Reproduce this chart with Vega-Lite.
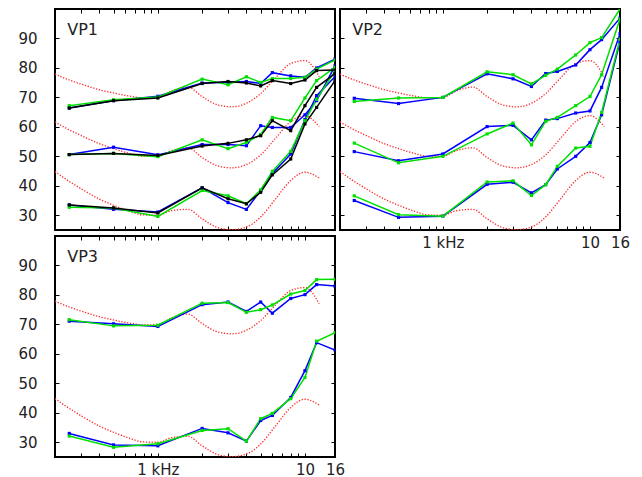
{
"$schema": "https://vega.github.io/schema/vega-lite/v6.json",
"padding": {"left": 16, "top": 7, "right": 0, "bottom": 0},
"background": "white",
"datasets": {
"iso": [
{"lv":70,"f":200,"db":77.9},{"lv":70,"f":250,"db":75.9},{"lv":70,"f":315,"db":74.2},{"lv":70,"f":400,"db":72.6},{"lv":70,"f":500,"db":71.5},{"lv":70,"f":630,"db":70.5},{"lv":70,"f":800,"db":69.8},{"lv":70,"f":1000,"db":70.0},{"lv":70,"f":1250,"db":72.3},{"lv":70,"f":1600,"db":73.5},{"lv":70,"f":2000,"db":70.3},{"lv":70,"f":2500,"db":67.6},{"lv":70,"f":3150,"db":66.8},{"lv":70,"f":4000,"db":68.0},{"lv":70,"f":5000,"db":71.3},{"lv":70,"f":6300,"db":76.6},{"lv":70,"f":8000,"db":81.5},{"lv":70,"f":10000,"db":82.5},{"lv":70,"f":12500,"db":77.0},
{"lv":50,"f":200,"db":61.7},{"lv":50,"f":250,"db":59.0},{"lv":50,"f":315,"db":56.6},{"lv":50,"f":400,"db":54.3},{"lv":50,"f":500,"db":52.6},{"lv":50,"f":630,"db":51.1},{"lv":50,"f":800,"db":50.0},{"lv":50,"f":1000,"db":50.0},{"lv":50,"f":1250,"db":52.0},{"lv":50,"f":1600,"db":52.9},{"lv":50,"f":2000,"db":49.6},{"lv":50,"f":2500,"db":46.9},{"lv":50,"f":3150,"db":46.1},{"lv":50,"f":4000,"db":47.2},{"lv":50,"f":5000,"db":50.5},{"lv":50,"f":6300,"db":56.1},{"lv":50,"f":8000,"db":61.8},{"lv":50,"f":10000,"db":63.8},{"lv":50,"f":12500,"db":60.1},
{"lv":30,"f":200,"db":44.8},{"lv":30,"f":250,"db":41.5},{"lv":30,"f":315,"db":38.4},{"lv":30,"f":400,"db":35.5},{"lv":30,"f":500,"db":33.4},{"lv":30,"f":630,"db":31.5},{"lv":30,"f":800,"db":30.1},{"lv":30,"f":1000,"db":30.0},{"lv":30,"f":1250,"db":31.6},{"lv":30,"f":1600,"db":32.0},{"lv":30,"f":2000,"db":28.8},{"lv":30,"f":2500,"db":26.0},{"lv":30,"f":3150,"db":25.1},{"lv":30,"f":4000,"db":26.0},{"lv":30,"f":5000,"db":29.4},{"lv":30,"f":6300,"db":35.5},{"lv":30,"f":8000,"db":41.8},{"lv":30,"f":10000,"db":44.6},{"lv":30,"f":12500,"db":42.6}
],
"lab": [{"p":"VP1"},{"p":"VP2"},{"p":"VP3"}],
"meas": [
{"p":"VP1","g":"U","r":"A","f":250,"db":66.4},{"p":"VP1","g":"U","r":"A","f":500,"db":68.9},{"p":"VP1","g":"U","r":"A","f":1000,"db":70.4},{"p":"VP1","g":"U","r":"A","f":2000,"db":74.9},{"p":"VP1","g":"U","r":"A","f":3000,"db":75.1},{"p":"VP1","g":"U","r":"A","f":4000,"db":75.4},{"p":"VP1","g":"U","r":"A","f":5000,"db":74.7},{"p":"VP1","g":"U","r":"A","f":6000,"db":78.4},{"p":"VP1","g":"U","r":"A","f":8000,"db":77.3},{"p":"VP1","g":"U","r":"A","f":10000,"db":76.8},{"p":"VP1","g":"U","r":"A","f":12000,"db":80.0},{"p":"VP1","g":"U","r":"A","f":16000,"db":83.0},
{"p":"VP1","g":"M","r":"A","f":250,"db":50.6},{"p":"VP1","g":"M","r":"A","f":500,"db":53.1},{"p":"VP1","g":"M","r":"A","f":1000,"db":50.5},{"p":"VP1","g":"M","r":"A","f":2000,"db":54.0},{"p":"VP1","g":"M","r":"A","f":3000,"db":54.0},{"p":"VP1","g":"M","r":"A","f":4000,"db":53.6},{"p":"VP1","g":"M","r":"A","f":5000,"db":60.4},{"p":"VP1","g":"M","r":"A","f":6000,"db":59.8},{"p":"VP1","g":"M","r":"A","f":8000,"db":59.8},{"p":"VP1","g":"M","r":"A","f":10000,"db":64.1},{"p":"VP1","g":"M","r":"A","f":12000,"db":68.9},{"p":"VP1","g":"M","r":"A","f":16000,"db":80.7},
{"p":"VP1","g":"L","r":"A","f":250,"db":33.5},{"p":"VP1","g":"L","r":"A","f":500,"db":32.0},{"p":"VP1","g":"L","r":"A","f":1000,"db":31.1},{"p":"VP1","g":"L","r":"A","f":2000,"db":39.3},{"p":"VP1","g":"L","r":"A","f":3000,"db":34.3},{"p":"VP1","g":"L","r":"A","f":4000,"db":32.0},{"p":"VP1","g":"L","r":"A","f":5000,"db":38.4},{"p":"VP1","g":"L","r":"A","f":6000,"db":44.2},{"p":"VP1","g":"L","r":"A","f":8000,"db":50.8},{"p":"VP1","g":"L","r":"A","f":10000,"db":62.5},{"p":"VP1","g":"L","r":"A","f":12000,"db":70.6},{"p":"VP1","g":"L","r":"A","f":16000,"db":77.0},
{"p":"VP1","g":"U","r":"B","f":250,"db":67.2},{"p":"VP1","g":"U","r":"B","f":500,"db":69.2},{"p":"VP1","g":"U","r":"B","f":1000,"db":70.1},{"p":"VP1","g":"U","r":"B","f":2000,"db":76.2},{"p":"VP1","g":"U","r":"B","f":3000,"db":74.3},{"p":"VP1","g":"U","r":"B","f":4000,"db":77.0},{"p":"VP1","g":"U","r":"B","f":5000,"db":75.1},{"p":"VP1","g":"U","r":"B","f":6000,"db":76.4},{"p":"VP1","g":"U","r":"B","f":8000,"db":76.4},{"p":"VP1","g":"U","r":"B","f":10000,"db":76.8},{"p":"VP1","g":"U","r":"B","f":12000,"db":79.6},{"p":"VP1","g":"U","r":"B","f":16000,"db":82.7},
{"p":"VP1","g":"M","r":"B","f":250,"db":50.6},{"p":"VP1","g":"M","r":"B","f":500,"db":51.0},{"p":"VP1","g":"M","r":"B","f":1000,"db":49.9},{"p":"VP1","g":"M","r":"B","f":2000,"db":55.6},{"p":"VP1","g":"M","r":"B","f":3000,"db":52.6},{"p":"VP1","g":"M","r":"B","f":4000,"db":54.7},{"p":"VP1","g":"M","r":"B","f":5000,"db":57.4},{"p":"VP1","g":"M","r":"B","f":6000,"db":63.2},{"p":"VP1","g":"M","r":"B","f":8000,"db":62.1},{"p":"VP1","g":"M","r":"B","f":10000,"db":69.8},{"p":"VP1","g":"M","r":"B","f":12000,"db":75.7},{"p":"VP1","g":"M","r":"B","f":16000,"db":80.2},
{"p":"VP1","g":"L","r":"B","f":250,"db":32.7},{"p":"VP1","g":"L","r":"B","f":500,"db":32.5},{"p":"VP1","g":"L","r":"B","f":1000,"db":29.6},{"p":"VP1","g":"L","r":"B","f":2000,"db":38.4},{"p":"VP1","g":"L","r":"B","f":3000,"db":36.6},{"p":"VP1","g":"L","r":"B","f":4000,"db":33.9},{"p":"VP1","g":"L","r":"B","f":5000,"db":38.6},{"p":"VP1","g":"L","r":"B","f":6000,"db":44.9},{"p":"VP1","g":"L","r":"B","f":8000,"db":51.7},{"p":"VP1","g":"L","r":"B","f":10000,"db":62.1},{"p":"VP1","g":"L","r":"B","f":12000,"db":69.3},{"p":"VP1","g":"L","r":"B","f":16000,"db":79.0},
{"p":"VP1","g":"U","r":"C","f":250,"db":66.4},{"p":"VP1","g":"U","r":"C","f":500,"db":68.9},{"p":"VP1","g":"U","r":"C","f":1000,"db":69.8},{"p":"VP1","g":"U","r":"C","f":2000,"db":74.7},{"p":"VP1","g":"U","r":"C","f":3000,"db":75.4},{"p":"VP1","g":"U","r":"C","f":4000,"db":74.9},{"p":"VP1","g":"U","r":"C","f":5000,"db":73.9},{"p":"VP1","g":"U","r":"C","f":6000,"db":75.7},{"p":"VP1","g":"U","r":"C","f":8000,"db":74.7},{"p":"VP1","g":"U","r":"C","f":10000,"db":75.9},{"p":"VP1","g":"U","r":"C","f":12000,"db":79.1},{"p":"VP1","g":"U","r":"C","f":16000,"db":79.3},
{"p":"VP1","g":"M","r":"C","f":250,"db":50.6},{"p":"VP1","g":"M","r":"C","f":500,"db":51.0},{"p":"VP1","g":"M","r":"C","f":1000,"db":50.3},{"p":"VP1","g":"M","r":"C","f":2000,"db":53.5},{"p":"VP1","g":"M","r":"C","f":3000,"db":54.4},{"p":"VP1","g":"M","r":"C","f":4000,"db":55.6},{"p":"VP1","g":"M","r":"C","f":5000,"db":57.0},{"p":"VP1","g":"M","r":"C","f":6000,"db":62.1},{"p":"VP1","g":"M","r":"C","f":8000,"db":58.7},{"p":"VP1","g":"M","r":"C","f":10000,"db":67.2},{"p":"VP1","g":"M","r":"C","f":12000,"db":73.4},{"p":"VP1","g":"M","r":"C","f":16000,"db":78.1},
{"p":"VP1","g":"L","r":"C","f":250,"db":33.5},{"p":"VP1","g":"L","r":"C","f":500,"db":32.5},{"p":"VP1","g":"L","r":"C","f":1000,"db":30.8},{"p":"VP1","g":"L","r":"C","f":2000,"db":39.3},{"p":"VP1","g":"L","r":"C","f":3000,"db":35.6},{"p":"VP1","g":"L","r":"C","f":4000,"db":33.9},{"p":"VP1","g":"L","r":"C","f":5000,"db":37.8},{"p":"VP1","g":"L","r":"C","f":6000,"db":43.7},{"p":"VP1","g":"L","r":"C","f":8000,"db":49.1},{"p":"VP1","g":"L","r":"C","f":10000,"db":61.0},{"p":"VP1","g":"L","r":"C","f":12000,"db":66.6},{"p":"VP1","g":"L","r":"C","f":16000,"db":75.7},
{"p":"VP2","g":"U","r":"A","f":250,"db":69.7},{"p":"VP2","g":"U","r":"A","f":500,"db":67.9},{"p":"VP2","g":"U","r":"A","f":1000,"db":70.0},{"p":"VP2","g":"U","r":"A","f":2000,"db":78.0},{"p":"VP2","g":"U","r":"A","f":3000,"db":76.3},{"p":"VP2","g":"U","r":"A","f":4000,"db":73.7},{"p":"VP2","g":"U","r":"A","f":5000,"db":78.1},{"p":"VP2","g":"U","r":"A","f":6000,"db":78.8},{"p":"VP2","g":"U","r":"A","f":8000,"db":81.0},{"p":"VP2","g":"U","r":"A","f":10000,"db":86.2},{"p":"VP2","g":"U","r":"A","f":12000,"db":89.6},{"p":"VP2","g":"U","r":"A","f":16000,"db":96.9},
{"p":"VP2","g":"M","r":"A","f":250,"db":51.6},{"p":"VP2","g":"M","r":"A","f":500,"db":48.5},{"p":"VP2","g":"M","r":"A","f":1000,"db":50.8},{"p":"VP2","g":"M","r":"A","f":2000,"db":60.1},{"p":"VP2","g":"M","r":"A","f":3000,"db":60.5},{"p":"VP2","g":"M","r":"A","f":4000,"db":55.6},{"p":"VP2","g":"M","r":"A","f":5000,"db":62.3},{"p":"VP2","g":"M","r":"A","f":6000,"db":62.8},{"p":"VP2","g":"M","r":"A","f":8000,"db":64.7},{"p":"VP2","g":"M","r":"A","f":10000,"db":65.4},{"p":"VP2","g":"M","r":"A","f":12000,"db":73.4},{"p":"VP2","g":"M","r":"A","f":16000,"db":91.6},
{"p":"VP2","g":"L","r":"A","f":250,"db":35.0},{"p":"VP2","g":"L","r":"A","f":500,"db":29.3},{"p":"VP2","g":"L","r":"A","f":1000,"db":29.7},{"p":"VP2","g":"L","r":"A","f":2000,"db":40.5},{"p":"VP2","g":"L","r":"A","f":3000,"db":41.2},{"p":"VP2","g":"L","r":"A","f":4000,"db":37.6},{"p":"VP2","g":"L","r":"A","f":5000,"db":40.4},{"p":"VP2","g":"L","r":"A","f":6000,"db":45.7},{"p":"VP2","g":"L","r":"A","f":8000,"db":50.0},{"p":"VP2","g":"L","r":"A","f":10000,"db":54.7},{"p":"VP2","g":"L","r":"A","f":12000,"db":64.1},{"p":"VP2","g":"L","r":"A","f":16000,"db":88.9},
{"p":"VP2","g":"U","r":"B","f":250,"db":68.6},{"p":"VP2","g":"U","r":"B","f":500,"db":69.8},{"p":"VP2","g":"U","r":"B","f":1000,"db":70.0},{"p":"VP2","g":"U","r":"B","f":2000,"db":78.7},{"p":"VP2","g":"U","r":"B","f":3000,"db":77.7},{"p":"VP2","g":"U","r":"B","f":4000,"db":74.6},{"p":"VP2","g":"U","r":"B","f":5000,"db":77.5},{"p":"VP2","g":"U","r":"B","f":6000,"db":79.6},{"p":"VP2","g":"U","r":"B","f":8000,"db":84.4},{"p":"VP2","g":"U","r":"B","f":10000,"db":88.6},{"p":"VP2","g":"U","r":"B","f":12000,"db":90.3},{"p":"VP2","g":"U","r":"B","f":16000,"db":100.0},
{"p":"VP2","g":"M","r":"B","f":250,"db":54.5},{"p":"VP2","g":"M","r":"B","f":500,"db":47.8},{"p":"VP2","g":"M","r":"B","f":1000,"db":50.0},{"p":"VP2","g":"M","r":"B","f":2000,"db":57.6},{"p":"VP2","g":"M","r":"B","f":3000,"db":61.3},{"p":"VP2","g":"M","r":"B","f":4000,"db":53.9},{"p":"VP2","g":"M","r":"B","f":5000,"db":61.9},{"p":"VP2","g":"M","r":"B","f":6000,"db":63.2},{"p":"VP2","g":"M","r":"B","f":8000,"db":67.2},{"p":"VP2","g":"M","r":"B","f":10000,"db":70.3},{"p":"VP2","g":"M","r":"B","f":12000,"db":77.7},{"p":"VP2","g":"M","r":"B","f":16000,"db":96.6},
{"p":"VP2","g":"L","r":"B","f":250,"db":36.6},{"p":"VP2","g":"L","r":"B","f":500,"db":30.2},{"p":"VP2","g":"L","r":"B","f":1000,"db":29.7},{"p":"VP2","g":"L","r":"B","f":2000,"db":41.3},{"p":"VP2","g":"L","r":"B","f":3000,"db":41.7},{"p":"VP2","g":"L","r":"B","f":4000,"db":36.7},{"p":"VP2","g":"L","r":"B","f":5000,"db":40.4},{"p":"VP2","g":"L","r":"B","f":6000,"db":46.6},{"p":"VP2","g":"L","r":"B","f":8000,"db":52.8},{"p":"VP2","g":"L","r":"B","f":10000,"db":53.4},{"p":"VP2","g":"L","r":"B","f":12000,"db":64.9},{"p":"VP2","g":"L","r":"B","f":16000,"db":89.8},
{"p":"VP3","g":"U","r":"A","f":250,"db":71.1},{"p":"VP3","g":"U","r":"A","f":500,"db":70.2},{"p":"VP3","g":"U","r":"A","f":1000,"db":69.3},{"p":"VP3","g":"U","r":"A","f":2000,"db":76.7},{"p":"VP3","g":"U","r":"A","f":3000,"db":77.6},{"p":"VP3","g":"U","r":"A","f":4000,"db":74.4},{"p":"VP3","g":"U","r":"A","f":5000,"db":77.6},{"p":"VP3","g":"U","r":"A","f":6000,"db":73.8},{"p":"VP3","g":"U","r":"A","f":8000,"db":78.8},{"p":"VP3","g":"U","r":"A","f":10000,"db":80.1},{"p":"VP3","g":"U","r":"A","f":12000,"db":83.5},{"p":"VP3","g":"U","r":"A","f":16000,"db":83.0},
{"p":"VP3","g":"L","r":"A","f":250,"db":33.0},{"p":"VP3","g":"L","r":"A","f":500,"db":29.1},{"p":"VP3","g":"L","r":"A","f":1000,"db":28.8},{"p":"VP3","g":"L","r":"A","f":2000,"db":34.7},{"p":"VP3","g":"L","r":"A","f":3000,"db":33.2},{"p":"VP3","g":"L","r":"A","f":4000,"db":30.4},{"p":"VP3","g":"L","r":"A","f":5000,"db":37.4},{"p":"VP3","g":"L","r":"A","f":6000,"db":39.1},{"p":"VP3","g":"L","r":"A","f":8000,"db":45.2},{"p":"VP3","g":"L","r":"A","f":10000,"db":54.3},{"p":"VP3","g":"L","r":"A","f":12000,"db":63.8},{"p":"VP3","g":"L","r":"A","f":16000,"db":61.3},
{"p":"VP3","g":"U","r":"B","f":250,"db":71.6},{"p":"VP3","g":"U","r":"B","f":500,"db":69.5},{"p":"VP3","g":"U","r":"B","f":1000,"db":69.7},{"p":"VP3","g":"U","r":"B","f":2000,"db":77.2},{"p":"VP3","g":"U","r":"B","f":3000,"db":77.4},{"p":"VP3","g":"U","r":"B","f":4000,"db":74.1},{"p":"VP3","g":"U","r":"B","f":5000,"db":75.0},{"p":"VP3","g":"U","r":"B","f":6000,"db":76.6},{"p":"VP3","g":"U","r":"B","f":8000,"db":80.3},{"p":"VP3","g":"U","r":"B","f":10000,"db":81.5},{"p":"VP3","g":"U","r":"B","f":12000,"db":85.2},{"p":"VP3","g":"U","r":"B","f":16000,"db":85.3},
{"p":"VP3","g":"L","r":"B","f":250,"db":32.1},{"p":"VP3","g":"L","r":"B","f":500,"db":28.3},{"p":"VP3","g":"L","r":"B","f":1000,"db":29.5},{"p":"VP3","g":"L","r":"B","f":2000,"db":34.0},{"p":"VP3","g":"L","r":"B","f":3000,"db":34.6},{"p":"VP3","g":"L","r":"B","f":4000,"db":30.4},{"p":"VP3","g":"L","r":"B","f":5000,"db":38.0},{"p":"VP3","g":"L","r":"B","f":6000,"db":39.8},{"p":"VP3","g":"L","r":"B","f":8000,"db":44.8},{"p":"VP3","g":"L","r":"B","f":10000,"db":52.0},{"p":"VP3","g":"L","r":"B","f":12000,"db":64.3},{"p":"VP3","g":"L","r":"B","f":16000,"db":67.2}
]
},
"columns": 2,
"bounds": "flush",
"spacing": {"row": 6, "column": 5},
"concat": [
{
"width": 280, "height": 221,
"resolve": {"axis": {"x": "independent", "y": "independent"}},
"layer": [
{"data": {"name": "iso"},
 "mark": {"type": "line", "color": "#ff2a2a", "strokeWidth": 1.3, "strokeDash": [1.3, 1.6], "interpolate": "monotone", "clip": true},
 "encoding": {
  "x": {"field": "f", "type": "quantitative", "scale": {"type": "log", "domain": [200, 16000], "nice": false}, "axis": {"orient": "bottom", "title": null, "labels": false, "values": [200,300,400,500,600,700,800,900,1000,2000,3000,4000,5000,6000,7000,8000,9000,10000,16000]}},
  "y": {"field": "db", "type": "quantitative", "scale": {"domain": [25, 100], "nice": false, "zero": false}, "axis": {"orient": "left", "title": null, "values": [30,40,50,60,70,80,90], "labelPadding": 18}},
  "detail": {"field": "lv"}}},
{"data": {"name": "meas"}, "transform": [{"filter": "datum.p == 'VP1'"}],
 "mark": {"type": "line", "strokeWidth": 1.5, "clip": true},
 "encoding": {
  "x": {"field": "f", "type": "quantitative", "axis": {"orient": "top", "title": null, "labels": false, "values": [200,300,400,500,600,700,800,900,1000,2000,3000,4000,5000,6000,7000,8000,9000,10000,16000]}},
  "y": {"field": "db", "type": "quantitative", "axis": {"orient": "right", "title": null, "labels": false, "values": [30,40,50,60,70,80,90]}},
  "color": {"field": "r", "type": "nominal", "scale": {"domain": ["A","B","C"], "range": ["#0000ff","#00e000","#000000"]}, "legend": null},
  "detail": {"field": "g"}}},
{"data": {"name": "meas"}, "transform": [{"filter": "datum.p == 'VP1'"}],
 "mark": {"type": "point", "shape": "square", "filled": true, "size": 10, "opacity": 1, "clip": true},
 "encoding": {
  "x": {"field": "f", "type": "quantitative", "axis": null},
  "y": {"field": "db", "type": "quantitative", "axis": null},
  "color": {"field": "r", "type": "nominal", "legend": null}}},
{"data": {"name": "lab"}, "transform": [{"filter": "datum.p == 'VP1'"}],
 "mark": {"type": "text", "align": "left", "baseline": "alphabetic", "font": "DejaVu Sans", "fontSize": 16, "color": "#222"},
 "encoding": {
  "x": {"datum": 242, "type": "quantitative", "axis": null},
  "y": {"datum": 91.3, "type": "quantitative", "axis": null},
  "text": {"field": "p"}}}
]
},
{
"width": 280, "height": 221,
"resolve": {"axis": {"x": "independent", "y": "independent"}},
"layer": [
{"data": {"name": "iso"},
 "mark": {"type": "line", "color": "#ff2a2a", "strokeWidth": 1.3, "strokeDash": [1.3, 1.6], "interpolate": "monotone", "clip": true},
 "encoding": {
  "x": {"field": "f", "type": "quantitative", "scale": {"type": "log", "domain": [200, 16000], "nice": false}, "axis": {"orient": "bottom", "title": null, "labelFlush": false, "labelOverlap": false, "labelPadding": 5, "labelExpr": "datum.value == 1000 ? '1 kHz' : datum.value == 10000 ? '10' : datum.value == 16000 ? '16' : ''", "values": [200,300,400,500,600,700,800,900,1000,2000,3000,4000,5000,6000,7000,8000,9000,10000,16000]}},
  "y": {"field": "db", "type": "quantitative", "scale": {"domain": [25, 100], "nice": false, "zero": false}, "axis": {"orient": "left", "title": null, "labels": false, "values": [30,40,50,60,70,80,90]}},
  "detail": {"field": "lv"}}},
{"data": {"name": "meas"}, "transform": [{"filter": "datum.p == 'VP2'"}],
 "mark": {"type": "line", "strokeWidth": 1.5, "clip": true},
 "encoding": {
  "x": {"field": "f", "type": "quantitative", "axis": {"orient": "top", "title": null, "labels": false, "values": [200,300,400,500,600,700,800,900,1000,2000,3000,4000,5000,6000,7000,8000,9000,10000,16000]}},
  "y": {"field": "db", "type": "quantitative", "axis": {"orient": "right", "title": null, "labels": false, "values": [30,40,50,60,70,80,90]}},
  "color": {"field": "r", "type": "nominal", "scale": {"domain": ["A","B","C"], "range": ["#0000ff","#00e000","#000000"]}, "legend": null},
  "detail": {"field": "g"}}},
{"data": {"name": "meas"}, "transform": [{"filter": "datum.p == 'VP2'"}],
 "mark": {"type": "point", "shape": "square", "filled": true, "size": 10, "opacity": 1, "clip": true},
 "encoding": {
  "x": {"field": "f", "type": "quantitative", "axis": null},
  "y": {"field": "db", "type": "quantitative", "axis": null},
  "color": {"field": "r", "type": "nominal", "legend": null}}},
{"data": {"name": "lab"}, "transform": [{"filter": "datum.p == 'VP2'"}],
 "mark": {"type": "text", "align": "left", "baseline": "alphabetic", "font": "DejaVu Sans", "fontSize": 16, "color": "#222"},
 "encoding": {
  "x": {"datum": 242, "type": "quantitative", "axis": null},
  "y": {"datum": 91.3, "type": "quantitative", "axis": null},
  "text": {"field": "p"}}}
]
},
{
"width": 280, "height": 221,
"resolve": {"axis": {"x": "independent", "y": "independent"}},
"layer": [
{"data": {"name": "iso"}, "transform": [{"filter": "datum.lv != 50"}],
 "mark": {"type": "line", "color": "#ff2a2a", "strokeWidth": 1.3, "strokeDash": [1.3, 1.6], "interpolate": "monotone", "clip": true},
 "encoding": {
  "x": {"field": "f", "type": "quantitative", "scale": {"type": "log", "domain": [200, 16000], "nice": false}, "axis": {"orient": "bottom", "title": null, "labelFlush": false, "labelOverlap": false, "labelPadding": 5, "labelExpr": "datum.value == 1000 ? '1 kHz' : datum.value == 10000 ? '10' : datum.value == 16000 ? '16' : ''", "values": [200,300,400,500,600,700,800,900,1000,2000,3000,4000,5000,6000,7000,8000,9000,10000,16000]}},
  "y": {"field": "db", "type": "quantitative", "scale": {"domain": [25, 100], "nice": false, "zero": false}, "axis": {"orient": "left", "title": null, "values": [30,40,50,60,70,80,90], "labelPadding": 18}},
  "detail": {"field": "lv"}}},
{"data": {"name": "meas"}, "transform": [{"filter": "datum.p == 'VP3'"}],
 "mark": {"type": "line", "strokeWidth": 1.5, "clip": true},
 "encoding": {
  "x": {"field": "f", "type": "quantitative", "axis": {"orient": "top", "title": null, "labels": false, "values": [200,300,400,500,600,700,800,900,1000,2000,3000,4000,5000,6000,7000,8000,9000,10000,16000]}},
  "y": {"field": "db", "type": "quantitative", "axis": {"orient": "right", "title": null, "labels": false, "values": [30,40,50,60,70,80,90]}},
  "color": {"field": "r", "type": "nominal", "scale": {"domain": ["A","B","C"], "range": ["#0000ff","#00e000","#000000"]}, "legend": null},
  "detail": {"field": "g"}}},
{"data": {"name": "meas"}, "transform": [{"filter": "datum.p == 'VP3'"}],
 "mark": {"type": "point", "shape": "square", "filled": true, "size": 10, "opacity": 1, "clip": true},
 "encoding": {
  "x": {"field": "f", "type": "quantitative", "axis": null},
  "y": {"field": "db", "type": "quantitative", "axis": null},
  "color": {"field": "r", "type": "nominal", "legend": null}}},
{"data": {"name": "lab"}, "transform": [{"filter": "datum.p == 'VP3'"}],
 "mark": {"type": "text", "align": "left", "baseline": "alphabetic", "font": "DejaVu Sans", "fontSize": 16, "color": "#222"},
 "encoding": {
  "x": {"datum": 242, "type": "quantitative", "axis": null},
  "y": {"datum": 91.3, "type": "quantitative", "axis": null},
  "text": {"field": "p"}}}
]
}
],
"config": {
 "view": {"stroke": "#000000", "strokeWidth": 2},
 "axis": {"grid": false, "domain": false, "ticks": true, "tickColor": "#000000", "tickOpacity": 1, "tickWidth": 1, "tickSize": 4, "offset": -4, "zindex": 1, "labelFont": "DejaVu Sans", "labelFontSize": 15, "labelColor": "#222222"}
}
}
